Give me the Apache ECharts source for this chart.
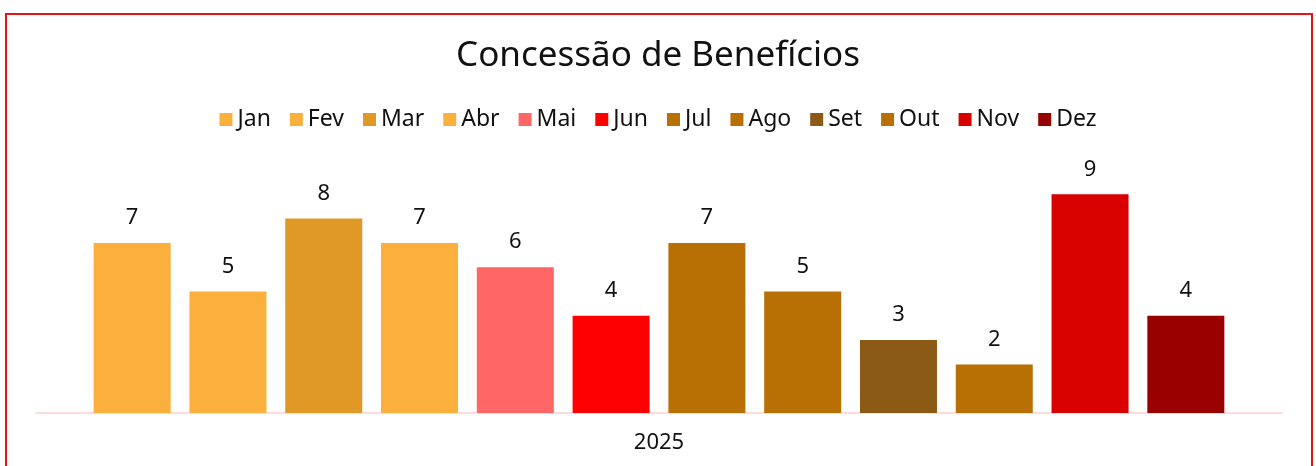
<!DOCTYPE html>
<html>
<head>
<meta charset="utf-8">
<script src="https://cdn.jsdelivr.net/npm/echarts@6/dist/echarts.min.js"></script>
<style>
    html, body { margin: 0; padding: 0; background: #fff; }
    #chart { position: absolute; left: 0; top: 0; width: 1316px; height: 466px; }
    #frame {
        position: absolute; left: 5px; top: 13px; width: 1308px; height: 470px;
        box-sizing: border-box; border: 2px solid #e31414; pointer-events: none;
    }
</style>
</head>
<body>
<div id="chart"></div>
<div id="frame"></div>
<script>
const categories = ['2025']
const months = ['Jan', 'Fev', 'Mar', 'Abr', 'Mai', 'Jun', 'Jul', 'Ago', 'Set', 'Out', 'Nov', 'Dez']
const values = [7, 5, 8, 7, 6, 4, 7, 5, 3, 2, 9, 4]
const colors = ['#fbaf3c', '#fbaf3c', '#e09926', '#fbaf3c', '#ff6666', '#ff0000',
    '#b86f04', '#b86f04', '#8b5a14', '#b86f04', '#d90000', '#990000']

const font = '"Noto Sans", "Open Sans", sans-serif'

const chart = echarts.init(document.getElementById('chart'))

const series = months.map((m, i) => ({
    name: m,
    type: 'bar',
    data: [values[i]],
    barWidth: 77,
    barGap: '24.4%',
    itemStyle: { color: colors[i] },
    label: {
        show: true,
        position: 'top',
        distance: 14,
        fontFamily: font,
        fontSize: 22,
        color: '#111',
    },
}))

chart.setOption({
    animation: false,
    title: {
        text: 'Concessão de Benefícios',
        left: 'center',
        top: 34,
        textStyle: { fontFamily: font, fontSize: 35, fontWeight: 'normal', color: '#111' },
    },
    legend: {
        data: months,
        top: 103,
        left: 'center',
        icon: 'rect',
        itemWidth: 13,
        itemHeight: 13,
        itemGap: 19,
        textStyle: { fontFamily: font, fontSize: 23, color: '#111' },
    },
    grid: { left: 36, right: 34, top: 170, bottom: 53 },
    xAxis: {
        type: 'category',
        data: categories,
        axisLine: { lineStyle: { color: '#fddcdc', width: 2 } },
        axisTick: { show: false },
        axisLabel: { fontFamily: font, fontSize: 22, color: '#111', margin: 19 },
    },
    yAxis: {
        type: 'value',
        min: 0,
        max: 10,
        show: false,
        splitLine: { show: false },
    },
    series,
})
</script>
</body>
</html>
